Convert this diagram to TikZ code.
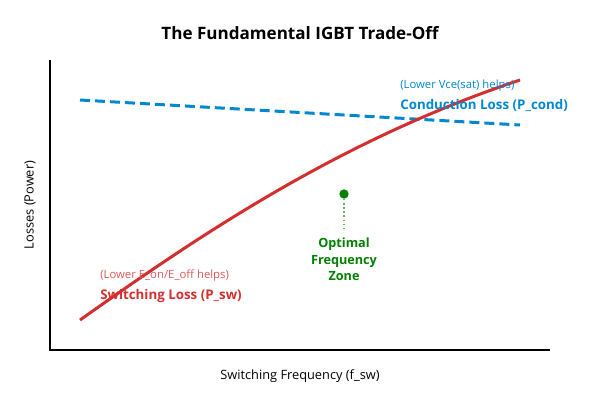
\documentclass[tikz,border=0pt]{standalone}
\usepackage{fontspec}
\setmainfont{Open Sans}
\definecolor{swred}{RGB}{211,47,47}
\definecolor{cdblue}{RGB}{2,136,209}
\definecolor{optgreen}{RGB}{0,128,0}

\begin{document}
\begin{tikzpicture}[x=0.75pt,y=-0.75pt,
    axis/.style={draw=black,line width=1.5pt},
    heading/.style={font=\fontsize{12.8}{15}\selectfont\bfseries},
    axislabel/.style={font=\fontsize{9.6}{11}\selectfont},
    curvelabel/.style={font=\fontsize{10}{12}\selectfont\bfseries,anchor=west,inner sep=0pt},
    curvenote/.style={font=\fontsize{8.5}{10}\selectfont,anchor=west,inner sep=0pt}]
    \useasboundingbox (0,0) rectangle (600,400);
    \node[heading] (T) at (300,33) {The Fundamental IGBT Trade-Off};
    % axes
    \coordinate (O) at (50,350);
    \coordinate (X) at (550,350);
    \coordinate (Y) at (50,60);
    \draw[axis] (Y) -- (O) -- (X);
    \node[axislabel] (XL) at (300,376) {Switching Frequency (f\_sw)};
    \node[axislabel,rotate=90] (YL) at (30,205) {Losses (Power)};
    % the two loss curves
    \draw[cdblue,line width=2.25pt,dash pattern=on 7.5pt off 3.75pt] (80,100) -- (520,125);
    \draw[swred,line width=2.25pt] (80,320) .. controls (200,235) and (340,140) .. (520,80);
    \node[curvenote,swred!80] (SN) at (100,276) {(Lower E\_on/E\_off helps)};
    \node[curvelabel,swred] (SL) at (100,296) {Switching Loss (P\_sw)};
    \node[curvenote,cdblue] (CN) at (400,86) {(Lower Vce(sat) helps)};
    \node[curvelabel,cdblue] (CL) at (400,105) {Conduction Loss (P\_cond)};
    % optimum
    \node[shape=circle,fill=optgreen,inner sep=0pt,minimum size=7pt] (P) at (344,194) {};
    \node[curvelabel,optgreen,anchor=north,align=center,font=\fontsize{9.5}{12.3}\selectfont\bfseries] (PL) at (344,238) {Optimal\\Frequency\\Zone};
    \draw[optgreen!60,line width=1.1pt,dotted] (P) -- ([yshift=7.5pt]PL.north);
\end{tikzpicture}
\end{document}
